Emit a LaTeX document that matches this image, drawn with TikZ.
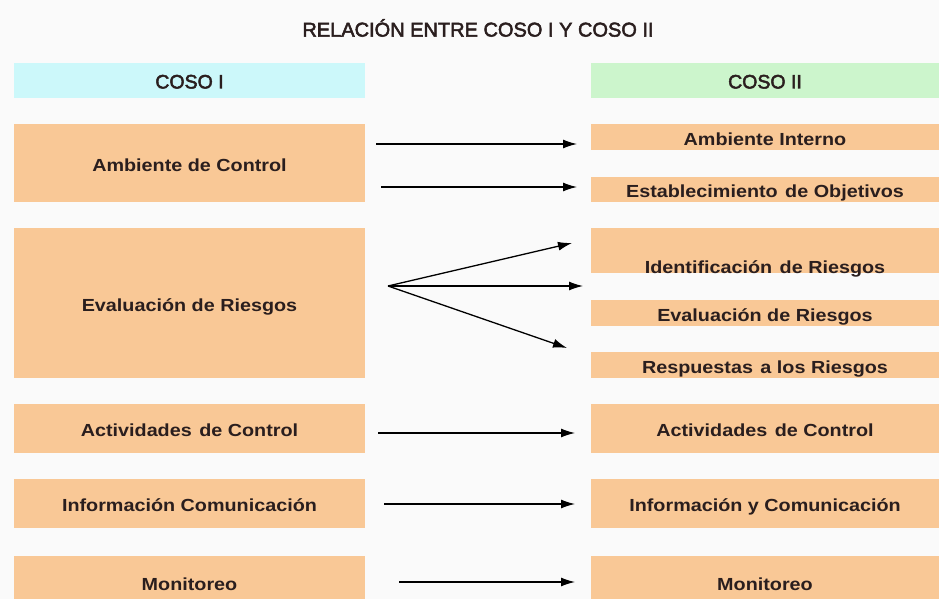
\documentclass[tikz,border=0pt]{standalone}
\usepackage{fontspec}
\setmainfont{Liberation Sans}
\newfontfamily\boxfont[FakeStretch=1.13]{Liberation Sans}
\newfontfamily\headfont[FakeBold=2.5]{Liberation Sans}
\usetikzlibrary{arrows.meta}
\definecolor{peach}{HTML}{F9C896}
\definecolor{headcyan}{HTML}{CCF8FA}
\definecolor{headgreen}{HTML}{CCF5CC}
\definecolor{bg}{HTML}{FAFAFA}
\definecolor{ink}{HTML}{2A1E1E}
\newcommand{\wsp}{\ \hspace{2pt}}
\begin{document}
\begin{tikzpicture}[x=1pt,y=-1pt,
  box/.style={fill=peach, draw=none, inner sep=0pt, text=ink,
    text height=16pt, text depth=0pt,
    font=\boxfont\fontsize{17.5}{20}\selectfont\bfseries},
  lbox/.style={box, minimum width=351pt},
  rbox/.style={box, minimum width=348pt},
  head/.style={draw=none, inner sep=0pt, minimum height=35pt, text=ink,
    text height=16pt, text depth=0pt,
    font=\headfont\fontsize{19.5}{22}\selectfont},
  txt/.style={inner sep=0pt, text=ink, text height=16pt, text depth=0pt,
    font=\boxfont\fontsize{17.5}{20}\selectfont\bfseries},
  arr/.style={-{Latex[length=14pt,width=9pt]}, line width=1.3pt, black}
]
\clip (0,0) rectangle (939,599);
\fill[bg] (0,0) rectangle (939,599);
\useasboundingbox (0,0) rectangle (939,599);

\node[inner sep=0pt, text=ink, font=\headfont\fontsize{20}{24}\selectfont] (title) at (478,28) {RELACIÓN ENTRE COSO I Y COSO II};

\node[head, fill=headcyan, minimum width=351pt] (lh) at (189.5,80.5) {COSO I};
\node[head, fill=headgreen, minimum width=348pt] (rh) at (765,80.5) {COSO II};

% left column
\node[lbox, minimum height=78pt] (l1) at (189.5,163) {Ambiente de Control};
\node[lbox, minimum height=150pt] (l2) at (189.5,303) {Evaluación de Riesgos};
\node[lbox, minimum height=49pt] (l3) at (189.5,428.5) {Actividades\wsp de Control};
\node[lbox, minimum height=49pt] (l4) at (189.5,503.5) {Información Comunicación};
\node[lbox, minimum height=52pt] (l5) at (189.5,582) {Monitoreo};

% right column
\node[rbox, minimum height=26pt] (r1) at (765,137) {Ambiente Interno};
\node[rbox, minimum height=25pt] (r2) at (765,189.5) {Establecimiento\wsp de Objetivos};
\node[rbox, minimum height=45pt] (r3) at (765,250.5) {};
\node[txt] (r3t) at (765,265) {Identificación\wsp de Riesgos};
\node[rbox, minimum height=26pt] (r4) at (765,313) {Evaluación de Riesgos};
\node[rbox, minimum height=26pt] (r5) at (765,365) {Respuestas\wsp a los Riesgos};
\node[rbox, minimum height=49pt] (r6) at (765,428.5) {Actividades\wsp de Control};
\node[rbox, minimum height=49pt] (r7) at (765,503.5) {Información y Comunicación};
\node[rbox, minimum height=52pt] (r8) at (765,582) {Monitoreo};

% arrow end points
\coordinate (a1s) at (376,144); \coordinate (a1e) at (577,144);
\coordinate (a2s) at (381,187); \coordinate (a2e) at (577,187);
\coordinate (fs) at (388,286);
\coordinate (f1e) at (572,243);
\coordinate (f2e) at (583,286);
\coordinate (f3e) at (567,348);
\coordinate (a3s) at (378,433); \coordinate (a3e) at (575,433);
\coordinate (a4s) at (384,504); \coordinate (a4e) at (575,504);
\coordinate (a5s) at (399,582); \coordinate (a5e) at (575,582);

\draw[arr] (a1s) -- (a1e);
\draw[arr] (a2s) -- (a2e);
\draw[arr] (fs) -- (f1e);
\draw[arr] (fs) -- (f2e);
\draw[arr] (fs) -- (f3e);
\draw[arr] (a3s) -- (a3e);
\draw[arr] (a4s) -- (a4e);
\draw[arr] (a5s) -- (a5e);
\end{tikzpicture}
\end{document}
